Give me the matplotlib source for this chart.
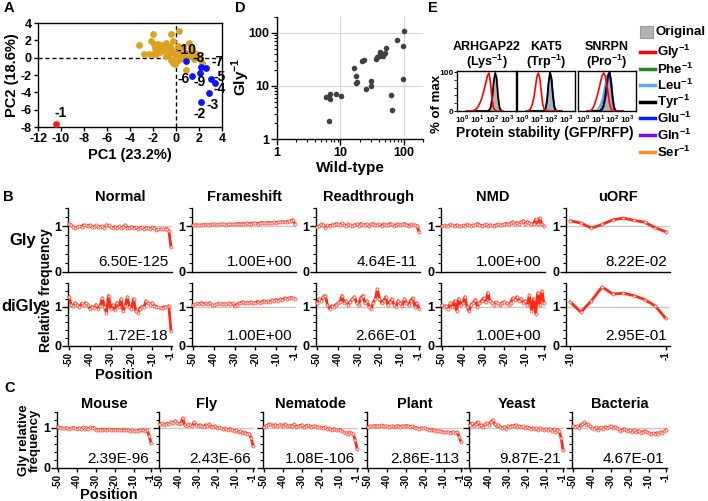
import matplotlib
matplotlib.use("Agg")
import matplotlib.pyplot as plt
import numpy as np
from matplotlib.lines import Line2D
from matplotlib.patches import Rectangle
from matplotlib.ticker import MultipleLocator, NullFormatter, NullLocator

plt.rcParams['font.family'] = ['Liberation Sans', 'DejaVu Sans']
plt.rcParams['font.weight'] = 'bold'
plt.rcParams['axes.labelweight'] = 'bold'
plt.rcParams['axes.unicode_minus'] = False
plt.rcParams['mathtext.fontset'] = 'custom'
plt.rcParams['mathtext.rm'] = 'Liberation Sans:bold'
plt.rcParams['mathtext.bf'] = 'Liberation Sans:bold'
plt.rcParams['axes.linewidth'] = 1.0

# ---------------- DATA ----------------
# A : PCA of position-specific composition
pca_other_x = [-3.25, -2.0, -2.15, -1.95, -1.6, -1.85, -1.55, -1.3, -2.75, -2.35, -2.0, -1.7,
               -0.85, -0.45, -0.3, 0.25, -0.85, -0.45, -0.7, -0.4, 0.0, -0.45, -0.25, 0.1,
               0.9, 1.1, 1.3, 1.45, 1.75, 2.05, 2.3, -1.1, -0.6, 0.3, 0.5, 0.6, 0.9, 1.2,
               0.35, -0.2, -1.4, 0.75, 1.6, -0.9, 0.15, -0.05]
pca_other_y = [1.5, 2.75, 1.95, 1.6, 1.6, 1.1, 1.1, 1.5, 0.45, 0.45, 0.45, 0.4,
               1.75, 2.75, 1.95, 3.05, 0.95, 1.1, 0.35, 0.55, 0.15, -0.25, -0.6, -0.35,
               -1.4, 1.7, 1.1, 0.65, 0.45, 0.0, -0.6, 0.9, 1.4, 0.7, 0.3, 1.2, 0.5, 0.2,
               -0.1, 0.6, 0.7, 0.05, -0.2, 0.2, 1.3, -0.7]
pca_near_labels = ['-10', '-9', '-8', '-7', '-6', '-5', '-4', '-3', '-2']
pca_near_x = [0.87, 2.06, 2.2, 2.61, 1.39, 3.04, 3.42, 2.84, 2.2]
pca_near_y = [-0.37, -1.81, -1.11, -1.19, -2.16, -2.43, -2.97, -4.13, -5.06]
pca_first_x = [-10.41]
pca_first_y = [-7.61]

# D : reporter stability, wild-type vs Gly-1
wt_values = [5.9, 6.9, 6.8, 8.4, 10.2, 6.6, 17.5, 17.5, 18.3, 16.4, 25.1, 30.1, 30.1,
             21.5, 23.5, 36.0, 38.0, 40.0, 42.0, 44.0, 41.5, 46.0, 50.0, 53.0, 78.0,
             102.0, 98.0, 98.0, 62.0, 66.0]
gly_values = [6.2, 7.1, 5.6, 7.2, 6.5, 2.15, 15.1, 11.6, 12.1, 22.0, 8.9, 12.5, 10.0,
              29.5, 30.9, 32.2, 34.7, 36.3, 37.2, 38.4, 44.5, 37.3, 41.9, 51.4, 75.2,
              107.0, 57.5, 13.8, 6.9, 3.5]

# E : flow-cytometry histograms (log10 GFP/RFP bins, % of max)
e_log_bins = [0.3, 0.4, 0.5, 0.6, 0.7, 0.8, 0.9, 1.0, 1.1, 1.2, 1.3, 1.4, 1.5,
              1.6, 1.7, 1.8, 1.9, 2.0, 2.1, 2.2, 2.3, 2.4, 2.5, 2.6, 2.7]
arhgap_original = [0, 0, 0, 0, 0, 0, 0, 0, 0, 0, 0, 0, 0, 0, 0, 3, 12, 38, 78, 100, 80, 30, 6, 1, 0]
arhgap_gly = [0, 0, 0, 0, 1, 2, 4, 8, 14, 22, 32, 45, 60, 76, 92, 98, 70, 30, 8, 2, 0, 0, 0, 0, 0]
arhgap_tyr = [0, 0, 0, 0, 0, 0, 0, 0, 0, 0, 0, 0, 0, 0, 0, 2, 8, 30, 72, 98, 85, 35, 8, 1, 0]
arhgap_ser = [0, 0, 0, 0, 0, 0, 0, 0, 0, 0, 0, 0, 0, 0, 0, 3, 10, 35, 75, 95, 90, 45, 10, 2, 0]
kat5_original = [0, 0, 0, 0, 0, 0, 0, 0, 0, 0, 0, 0, 3, 10, 35, 80, 98, 78, 30, 6, 1, 0, 0, 0, 0]
kat5_gly = [0, 1, 3, 8, 18, 35, 60, 88, 98, 85, 50, 18, 5, 1, 0, 0, 0, 0, 0, 0, 0, 0, 0, 0, 0]
kat5_tyr = [0, 0, 0, 0, 0, 0, 0, 0, 0, 0, 0, 0, 2, 8, 30, 75, 100, 80, 35, 8, 1, 0, 0, 0, 0]
kat5_glu = [0, 0, 0, 0, 0, 0, 0, 0, 0, 0, 0, 0, 0, 5, 25, 70, 98, 85, 45, 12, 2, 0, 0, 0, 0]
snrpn_original = [0, 0, 0, 0, 0, 0, 0, 2, 5, 12, 25, 45, 70, 90, 95, 80, 50, 20, 5, 1, 0, 0, 0, 0, 0]
snrpn_gly = [0, 0, 1, 4, 10, 20, 32, 45, 60, 78, 92, 98, 90, 70, 45, 20, 6, 1, 0, 0, 0, 0, 0, 0, 0]
snrpn_leu = [0, 0, 0, 0, 0, 0, 2, 5, 10, 18, 30, 48, 68, 85, 95, 88, 60, 25, 6, 1, 0, 0, 0, 0, 0]
snrpn_tyr = [0, 0, 0, 0, 0, 0, 0, 0, 0, 2, 6, 15, 35, 65, 92, 100, 75, 35, 8, 1, 0, 0, 0, 0, 0]
snrpn_glu = [0, 0, 0, 0, 0, 0, 0, 0, 0, 0, 5, 14, 32, 62, 90, 98, 78, 38, 10, 2, 0, 0, 0, 0, 0]
snrpn_gln = [0, 0, 0, 0, 0, 0, 0, 0, 0, 0, 4, 12, 30, 60, 88, 100, 82, 42, 12, 2, 0, 0, 0, 0, 0]
legend_names = ['Gly', 'Phe', 'Leu', 'Tyr', 'Glu', 'Gln', 'Ser']

# B : relative Gly / diGly frequency at positions -50..-1
positions = list(range(-50, 0))
uorf_positions = list(range(-10, 0))
normal_gly = [1.05, 1.03, 0.98, 0.97, 0.98, 1.00, 0.99, 1.03, 1.02, 1.00,
              1.03, 0.98, 0.99, 1.02, 0.98, 0.99, 1.00, 0.97, 1.03, 1.02,
              0.98, 0.97, 0.99, 0.96, 1.00, 0.97, 0.98, 1.03, 0.97, 0.96,
              0.99, 0.97, 0.98, 0.95, 0.96, 0.98, 0.94, 0.97, 0.96, 0.93,
              0.98, 0.97, 0.92, 0.93, 0.94, 0.93, 0.94, 0.95, 0.90, 0.55]
normal_digly = [1.25, 1.05, 1.02, 1.10, 1.05, 1.00, 1.08, 1.03, 1.10, 1.05,
                0.95, 1.00, 0.97, 1.05, 0.95, 1.02, 1.22, 1.00, 0.85, 1.28,
                0.95, 1.05, 0.92, 1.10, 1.00, 1.20, 0.88, 1.02, 1.25, 1.00,
                0.95, 1.20, 0.90, 0.85, 0.95, 1.00, 0.98, 1.15, 1.08, 1.05,
                1.10, 1.02, 1.00, 0.98, 0.96, 0.97, 1.00, 0.98, 1.02, 0.38]
frameshift_gly = [1.02, 1.03, 1.03, 1.02, 1.03, 1.03, 1.04, 1.03, 1.03, 1.04,
                  1.04, 1.03, 1.04, 1.04, 1.05, 1.04, 1.03, 1.04, 1.05, 1.04,
                  1.05, 1.05, 1.06, 1.05, 1.06, 1.05, 1.07, 1.06, 1.06, 1.07,
                  1.07, 1.06, 1.07, 1.08, 1.07, 1.07, 1.08, 1.08, 1.07, 1.09,
                  1.08, 1.09, 1.09, 1.10, 1.09, 1.10, 1.11, 1.12, 1.14, 1.05]
frameshift_digly = [1.03, 1.06, 1.08, 1.07, 1.10, 1.07, 1.08, 1.06, 1.10, 1.05,
                    1.03, 1.06, 1.07, 1.08, 1.06, 1.07, 1.06, 1.09, 1.07, 1.08,
                    1.02, 1.05, 1.09, 1.10, 1.12, 1.08, 1.10, 1.09, 1.12, 1.08,
                    1.10, 1.13, 1.10, 1.12, 1.15, 1.12, 1.14, 1.13, 1.17, 1.15,
                    1.18, 1.15, 1.20, 1.17, 1.22, 1.20, 1.21, 1.23, 1.22, 1.20]
readthrough_gly = [0.98, 1.00, 1.05, 1.03, 0.97, 1.02, 1.01, 1.03, 1.02, 1.06,
                   1.04, 1.02, 1.07, 1.03, 1.01, 1.05, 1.02, 1.00, 1.03, 1.04,
                   1.01, 1.06, 1.02, 1.03, 1.05, 1.01, 1.04, 1.06, 1.02, 1.03,
                   1.04, 1.01, 1.05, 1.03, 1.02, 1.06, 1.04, 1.01, 1.03, 1.05,
                   1.02, 1.04, 1.06, 1.03, 1.01, 1.04, 1.02, 1.03, 1.01, 0.88]
readthrough_digly = [1.10, 1.20, 1.15, 1.25, 1.28, 1.05, 0.95, 1.02, 1.00, 1.05,
                     1.08, 1.12, 1.28, 1.10, 1.15, 1.05, 1.12, 1.20, 1.25, 1.10,
                     1.05, 1.22, 1.28, 1.10, 1.15, 1.00, 0.93, 1.10, 1.20, 1.45,
                     1.20, 1.10, 1.15, 1.25, 1.05, 1.12, 1.20, 1.05, 1.00, 1.15,
                     1.10, 1.02, 1.20, 1.10, 1.05, 1.15, 1.22, 1.00, 1.10, 0.95]
nmd_gly = [1.00, 1.02, 1.00, 1.01, 1.04, 1.02, 1.00, 1.03, 1.01, 1.00,
           1.02, 1.01, 1.04, 1.02, 1.00, 1.03, 1.02, 1.06, 1.03, 1.01,
           1.02, 1.04, 1.01, 1.03, 1.02, 1.00, 1.03, 1.04, 1.02, 1.03,
           1.05, 1.06, 1.04, 1.07, 1.10, 1.05, 1.08, 1.06, 1.09, 1.12,
           1.05, 1.10, 1.08, 1.04, 1.06, 1.15, 1.05, 1.18, 1.05, 1.00]
nmd_digly = [1.05, 1.00, 1.02, 0.95, 1.10, 1.00, 1.15, 0.90, 1.20, 1.05,
             1.10, 1.25, 1.00, 0.88, 1.05, 1.10, 1.18, 1.00, 1.10, 1.15,
             1.22, 1.12, 1.35, 1.15, 1.10, 1.05, 1.12, 1.08, 1.05, 1.10,
             1.12, 1.08, 1.05, 1.10, 1.22, 1.18, 1.25, 1.15, 1.20, 1.10,
             1.15, 1.05, 1.30, 0.90, 1.20, 0.82, 1.35, 1.05, 1.40, 1.08]
uorf_gly = [1.12, 1.07, 0.96, 1.04, 1.14, 1.18, 1.13, 1.09, 0.97, 0.88]
uorf_digly = [1.12, 0.86, 1.15, 1.50, 1.32, 1.34, 1.28, 1.18, 1.02, 0.70]
b_titles = ['Normal', 'Frameshift', 'Readthrough', 'NMD', 'uORF']
b_pvals_gly = ['6.50E-125', '1.00E+00', '4.64E-11', '1.00E+00', '8.22E-02']
b_pvals_digly = ['1.72E-18', '1.00E+00', '2.66E-01', '1.00E+00', '2.95E-01']

# C : Gly relative frequency across species
mouse_gly = [1.02, 1.01, 1.00, 0.99, 1.00, 0.99, 0.98, 0.99, 1.01, 0.99,
             0.98, 1.00, 0.97, 1.02, 0.98, 1.01, 0.97, 1.02, 1.00, 1.01,
             0.95, 0.96, 0.95, 0.96, 0.97, 0.95, 0.96, 0.97, 0.95, 0.96,
             0.94, 0.96, 0.95, 0.94, 0.95, 0.96, 0.94, 0.95, 0.93, 0.94,
             0.93, 0.92, 0.93, 0.95, 0.94, 0.96, 0.92, 0.95, 0.80, 0.62]
fly_gly = [1.10, 1.12, 1.08, 1.10, 1.12, 1.10, 1.15, 1.12, 1.18, 1.13,
           1.10, 1.12, 1.25, 1.08, 1.05, 1.10, 1.07, 1.05, 1.15, 1.08,
           1.05, 1.08, 1.05, 1.03, 1.08, 1.05, 1.10, 1.03, 1.02, 1.05,
           1.00, 1.02, 1.00, 0.98, 0.99, 0.97, 0.96, 0.98, 0.95, 0.92,
           0.95, 0.90, 0.92, 0.88, 0.90, 0.88, 0.86, 0.85, 0.75, 0.55]
nematode_gly = [1.02, 1.05, 1.08, 1.10, 1.08, 1.06, 1.08, 1.05, 1.07, 1.08,
                1.05, 1.10, 1.06, 1.04, 1.06, 1.05, 1.10, 1.03, 1.05, 1.06,
                1.08, 1.02, 1.05, 1.07, 1.05, 1.02, 1.04, 1.05, 1.03, 1.02,
                1.01, 1.00, 1.02, 0.98, 0.99, 0.97, 0.96, 0.98, 0.95, 0.94,
                0.96, 0.92, 0.90, 0.88, 0.86, 0.90, 0.87, 0.85, 0.70, 0.48]
plant_gly = [1.03, 1.05, 1.04, 1.05, 1.06, 1.04, 1.05, 1.07, 1.06, 1.04,
             1.05, 1.03, 1.04, 1.05, 1.02, 1.04, 1.06, 1.03, 1.05, 1.04,
             1.06, 1.05, 1.03, 1.04, 1.02, 1.01, 1.00, 0.98, 1.00, 0.99,
             1.00, 0.97, 0.96, 0.95, 0.96, 0.94, 0.93, 0.92, 0.93, 0.90,
             0.90, 0.89, 0.90, 0.88, 0.89, 0.90, 0.87, 0.90, 0.78, 0.65]
yeast_gly = [1.08, 1.12, 1.05, 1.10, 1.15, 1.05, 1.08, 1.03, 1.10, 1.12,
             1.08, 1.15, 1.20, 1.10, 1.05, 1.08, 1.02, 1.00, 1.03, 0.98,
             1.05, 1.02, 1.06, 1.04, 1.08, 1.03, 1.05, 1.02, 1.04, 1.00,
             1.03, 1.01, 0.98, 1.00, 0.97, 0.99, 0.96, 1.00, 0.97, 0.95,
             0.98, 0.96, 0.98, 0.93, 0.97, 0.90, 0.96, 0.92, 0.75, 0.45]
bacteria_gly = [1.05, 1.02, 1.05, 1.00, 1.08, 1.10, 1.15, 1.08, 1.10, 1.05,
                1.00, 0.98, 1.02, 0.96, 1.00, 1.02, 0.98, 1.03, 1.00, 1.02,
                1.05, 1.00, 1.03, 1.01, 0.97, 0.93, 0.96, 0.98, 0.94, 0.92,
                0.95, 0.91, 0.94, 0.90, 0.93, 0.92, 0.88, 0.91, 0.93, 0.89,
                0.88, 0.85, 0.87, 0.86, 0.88, 0.85, 0.90, 0.88, 0.92, 0.95]
c_titles = ['Mouse', 'Fly', 'Nematode', 'Plant', 'Yeast', 'Bacteria']
c_pvals = ['2.39E-96', '2.43E-66', '1.08E-106', '2.86E-113', '9.87E-21', '4.67E-01']

pos_ticks = [-50, -40, -30, -20, -10, -1]
pos_ticklabels = ['-50', '-40', '-30', '-20', '-10', '-1']

# ---------------- FIGURE ----------------
W, H = 708, 501
fig = plt.figure(figsize=(W / 100, H / 100), dpi=100)


def box(l, t, r, b):
    return fig.add_axes([l / W, 1 - b / H, (r - l) / W, (b - t) / H])


def ftext(x, y, s, **kw):
    fig.text(x / W, 1 - y / H, s, **kw)


RED = '#ff2a14'

# ----- A -----
ax = box(38, 23, 222, 127)
ax.axhline(0, color='k', lw=1, ls=(0, (3, 2)), zorder=1)
ax.axvline(0, color='k', lw=1, ls=(0, (3, 2)), zorder=1)
ax.scatter(pca_other_x, pca_other_y, s=24, color='#daa21e', lw=0, zorder=3)
ax.scatter(pca_near_x, pca_near_y, s=24, color='#0a14ff', lw=0, zorder=4)
ax.scatter(pca_first_x, pca_first_y, s=24, color='#ff1a1a', lw=0, zorder=4)
label_offsets = [(0, 8), (0, -6), (-2, 7), (8, 4), (-6, -2), (6, 1), (3, -4), (3, -8), (-1, -9)]
for lab, x, y, off in zip(pca_near_labels, pca_near_x, pca_near_y, label_offsets):
    ax.annotate(lab, (x, y), xytext=off, textcoords='offset points',
                ha='center', va='center', fontsize=10, fontweight='bold', zorder=5)
ax.annotate('-1', (pca_first_x[0], pca_first_y[0]), xytext=(3, 8), textcoords='offset points',
            ha='center', va='center', fontsize=10, fontweight='bold')
ax.set_xlim(-12, 4)
ax.set_ylim(-8, 4)
ax.set_xticks(range(-12, 5, 2))
ax.set_yticks(range(-8, 5, 2))
ax.tick_params(labelsize=9, length=3, width=1, pad=1.5)
ax.set_xlabel('PC1 (23.2%)', fontsize=10.5, labelpad=2)
ax.set_ylabel('PC2 (18.6%)', fontsize=10.5, labelpad=1)

# ----- D -----
ax = box(277, 17, 423, 139)
ax.scatter(wt_values, gly_values, s=16, color='#404040', lw=0, zorder=3)
ax.set_xscale('log')
ax.set_yscale('log')
ax.set_xlim(1, 200)
ax.set_ylim(1, 200)
ax.grid(which='major', color='#d8d8d8', lw=0.8)
for s in ['top', 'right']:
    ax.spines[s].set_visible(False)
ax.set_xticks([1, 10, 100])
ax.set_xticklabels(['1', '10', '100'])
ax.set_yticks([1, 10, 100])
ax.set_yticklabels(['1', '10', '100'])
ax.xaxis.set_minor_formatter(NullFormatter())
ax.yaxis.set_minor_formatter(NullFormatter())
ax.tick_params(which='major', labelsize=9, length=4, width=1, pad=1.5)
ax.tick_params(which='minor', length=2.5, width=0.8)
ax.set_xlabel('Wild-type', fontsize=11, labelpad=2)
ax.set_ylabel('Gly$^{-1}$', fontsize=11)
ax.yaxis.set_label_coords(-0.17, 0.51)

# ----- E -----
ebins = 10 ** np.array(e_log_bins)
e_col = {'Gly': '#ff0000', 'Phe': '#1a8a1a', 'Leu': '#55aaff', 'Tyr': '#000000',
         'Glu': '#0022ff', 'Gln': '#8800ff', 'Ser': '#ff8c2a'}
e_panels = [
    (457, 516, 'ARHGAP22\n(Lys$^{-1}$)', arhgap_original,
     [('Ser', arhgap_ser), ('Tyr', arhgap_tyr), ('Gly', arhgap_gly)]),
    (517, 575, 'KAT5\n(Trp$^{-1}$)', kat5_original,
     [('Glu', kat5_glu), ('Tyr', kat5_tyr), ('Gly', kat5_gly)]),
    (578, 636, 'SNRPN\n(Pro$^{-1}$)', snrpn_original,
     [('Leu', snrpn_leu), ('Glu', snrpn_glu), ('Gln', snrpn_gln), ('Tyr', snrpn_tyr), ('Gly', snrpn_gly)]),
]
for i, (l, r, title, orig, curves) in enumerate(e_panels):
    ax = box(l, 71, r, 111)
    ax.fill_between(ebins, orig, color='#b3b3b3', lw=0.8, edgecolor='#7a7a7a', zorder=2)
    for name, vals in curves:
        ax.plot(ebins, vals, color=e_col[name], lw=1.2, zorder=3)
    ax.set_xscale('log')
    ax.set_xlim(10 ** -0.35, 10 ** 3.6)
    ax.set_ylim(0, 103)
    ax.set_xticks([1, 10, 100, 1000])
    ax.set_xticklabels(['$10^0$', '$10^1$', '$10^2$', '$10^3$'])
    ax.xaxis.set_minor_locator(NullLocator())
    ax.tick_params(axis='x', labelsize=6, length=0, pad=1.5)
    ax.set_yticks([0, 100])
    ax.yaxis.set_minor_locator(MultipleLocator(20))
    if i == 0:
        ax.set_yticklabels(['0', '100'])
        ax.tick_params(axis='y', labelsize=6, length=2, pad=0.5)
    else:
        ax.set_yticklabels([])
        ax.tick_params(axis='y', length=0)
        ax.tick_params(axis='y', which='minor', length=0)
    ax.set_title(title, fontsize=9, fontweight='bold', pad=2, linespacing=1.0)
ftext(437, 104, '% of max', fontsize=9.5, fontweight='bold', rotation=90, ha='center', va='center')
ftext(545, 133, 'Protein stability (GFP/RFP)', fontsize=10, fontweight='bold', ha='center', va='center')

# legend of panel E (hand-placed rows)
leg_rows = [32, 52, 69, 85, 102, 118, 135, 152]
fig.add_artist(Rectangle((640 / W, 1 - 38 / H), 13 / W, 12 / H, transform=fig.transFigure,
                         facecolor='#b3b3b3', edgecolor='#9a9a9a', lw=0.8))
ftext(656, leg_rows[0], 'Original', fontsize=9.5, fontweight='bold', ha='left', va='center')
for name, yrow in zip(legend_names, leg_rows[1:]):
    fig.add_artist(Line2D([640 / W, 655 / W], [1 - yrow / H, 1 - yrow / H],
                          transform=fig.transFigure, color=e_col[name], lw=2.5))
    ftext(657, yrow, name + '$^{-1}$', fontsize=9.5, fontweight='bold', ha='left', va='center')


# ----- profile helper -----
def profile(ax, pos, vals, top, pval, ticks, ticklabels, show_x, show_y=True):
    ax.axhline(1, color='#c8c8c8', lw=1, zorder=1)
    ax.plot(pos, vals, color=RED, lw=2.0, marker='o', ms=2.2, mfc='#ffe4e0',
            mec='#ff4a36', mew=0.5, zorder=3, clip_on=False)
    ax.set_ylim(0, top)
    margin = 0.5 if len(pos) > 20 else 0.4
    ax.set_xlim(pos[0] - margin, pos[-1] + margin)
    for s in ['top', 'right']:
        ax.spines[s].set_visible(False)
    ax.set_yticks([0, 1])
    ax.set_yticklabels(['0', '1'] if show_y else [])
    ax.yaxis.set_minor_locator(MultipleLocator(0.2))
    ax.tick_params(axis='y', labelsize=9, length=4, width=1, pad=1)
    ax.tick_params(axis='y', which='minor', length=2.5, width=0.8)
    if show_x:
        ax.set_xticks(ticks)
        ax.set_xticklabels(ticklabels, rotation=90)
        ax.tick_params(axis='x', labelsize=7, length=3, width=1, pad=1)
    else:
        ax.set_xticks([])
    ax.text(0.97, 0.04, pval, transform=ax.transAxes, ha='right', va='bottom',
            fontsize=11, fontweight='normal')


# ----- B -----
b_lefts = [68, 192, 316, 441, 566]
b_gly = [normal_gly, frameshift_gly, readthrough_gly, nmd_gly, uorf_gly]
b_digly = [normal_digly, frameshift_digly, readthrough_digly, nmd_digly, uorf_digly]
for j, l in enumerate(b_lefts):
    pos = uorf_positions if j == 4 else positions
    ticks = [-10, -1] if j == 4 else pos_ticks
    tlabels = ['-10', '-1'] if j == 4 else pos_ticklabels
    ax1 = box(l, 208, l + 104, 272)
    profile(ax1, pos, b_gly[j], 1.4, b_pvals_gly[j], ticks, tlabels, False)
    ax1.set_title(b_titles[j], fontsize=10.5, fontweight='bold', pad=5)
    ax2 = box(l, 283, l + 104, 346)
    profile(ax2, pos, b_digly[j], 1.6, b_pvals_digly[j], ticks, tlabels, True)
ftext(23, 240, 'Gly', fontsize=12, fontweight='bold', ha='center', va='center')
ftext(22, 307, 'diGly', fontsize=12, fontweight='bold', ha='center', va='center')
ftext(46, 290, 'Relative frequency', fontsize=10, fontweight='bold', rotation=90,
      ha='center', va='center')
ftext(124, 375, 'Position', fontsize=10.5, fontweight='bold', ha='center', va='center')

# ----- C -----
c_lefts = [57, 159, 263, 367, 469, 572]
c_vals = [mouse_gly, fly_gly, nematode_gly, plant_gly, yeast_gly, bacteria_gly]
for j, l in enumerate(c_lefts):
    ax = box(l, 412, l + 95, 468)
    profile(ax, positions, c_vals[j], 1.4, c_pvals[j], pos_ticks, pos_ticklabels, True,
            show_y=(j == 0))
    ax.set_title(c_titles[j], fontsize=10.5, fontweight='bold', pad=3)
ftext(29, 440, 'Gly relative\nfrequency', fontsize=9.5, fontweight='bold', rotation=90,
      ha='center', va='center', linespacing=0.85)
ftext(109, 495, 'Position', fontsize=10.5, fontweight='bold', ha='center', va='center')

# ----- panel letters -----
for letter, x, y in [('A', 9, 8), ('B', 8, 197), ('C', 10, 388), ('D', 240, 8), ('E', 433, 8)]:
    ftext(x, y, letter, fontsize=10.5, fontweight='bold', ha='center', va='center')

fig.savefig('out.png', dpi=100)
